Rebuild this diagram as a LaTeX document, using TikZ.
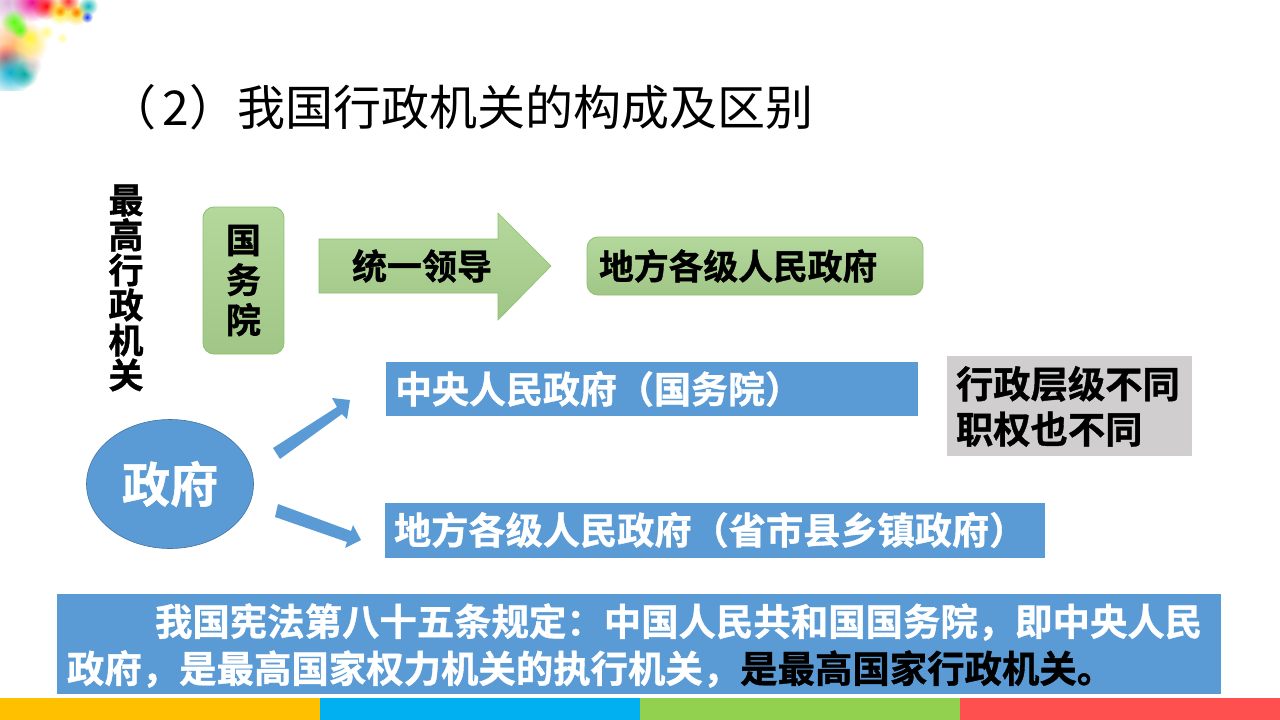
\documentclass[tikz,border=0pt]{standalone}
\usepackage{fontspec}
\setmainfont{Noto Sans CJK SC}[BoldFont={Noto Sans CJK SC Bold},BoldFeatures={FakeBold=1}]
\usetikzlibrary{shapes.geometric,fadings}
\definecolor{gov}{HTML}{5B9BD5}
\definecolor{leaf}{HTML}{A9D18E}
\definecolor{leaflight}{HTML}{B4D89C}
\definecolor{leafedge}{HTML}{8DBF6E}
\definecolor{shade}{HTML}{D0CECE}
\tikzfading[name=softdot,inner color=transparent!5,outer color=transparent!100]
\tikzset{
  x=1pt,y=-1pt,
  every node/.style={inner sep=0pt,outer sep=0pt},
  heavy/.style={font=\bfseries\fontsize{#1}{#1}\selectfont},
  band/.style={fill=gov,minimum height=54,anchor=west},
  greenbox/.style={top color=leaflight,bottom color=leaf!95!black,draw=leafedge,line width=0.8pt,rounded corners=11},
  blot/.style={fill=#1,path fading=softdot,draw=none},
}
\begin{document}
\begin{tikzpicture}
\useasboundingbox (0,0) rectangle (1280,720);
\fill[white] (0,0) rectangle (1280,720);

% Paint splash in the top-left corner
\begin{scope}
\clip (0,0) rectangle (100,90);
\fill[blot=violet!30] (8,2) circle (24);
\fill[blot=orange!60] (14,46) circle (32);
\fill[blot=yellow!60] (30,42) circle (18);
\fill[blot=red!70] (5,58) circle (15);
\fill[blot=cyan!80!green] (10,72) circle (24);
\fill[blot=cyan!50!green] (24,74) circle (14);
\fill[blot=gray!40] (32,66) circle (10);
\fill[blot=green!70!yellow] (14,22) circle (13);
\fill[blot=green!70!yellow] (20,30) circle (9);
\fill[blot=magenta] (32,2) circle (20);
\fill[blot=red] (46,6) circle (14);
\fill[blot=yellow!90!orange] (60,11) circle (14);
\fill[blot=orange] (60,11) circle (6);
\fill[blot=yellow!70!orange] (76,13) circle (13);
\fill[blot=orange!90!red] (76,12) circle (6);
\fill[blot=red!80!pink] (68,1) circle (11);
\fill[blot=teal!60!cyan] (88,6) circle (10);
\fill[blot=blue!80!cyan] (87,17) circle (6);
\fill[blot=yellow!80] (30,37) circle (8);
\fill[blot=yellow!50] (46,32) circle (8);
\fill[blot=yellow!40] (62,38) circle (6);
\end{scope}

% Title
\node[anchor=west,font=\fontsize{48}{48}\selectfont] (title) at (108,107) {（\hspace{7pt}2）我国行政机关的构成及区别};

% Vertical caption and the State Council box
\node[heavy=35,align=center] (highest) at (126,288) {最\\[0pt]高\\[0pt]行\\[0pt]政\\[0pt]机\\[0pt]关};
\node[greenbox,minimum width=81,minimum height=147,anchor=north west,heavy=35,align=center] (council) at (203,207) {国\\[5pt]务\\[5pt]院};

% Block arrow with its label
\path[top color=leaflight,bottom color=leaf!95!black,draw=leafedge,line width=0.6pt] (319,239) -- (498,239) -- (498,213) -- (551,266) -- (498,320) -- (498,293) -- (319,293) -- cycle;
\node[heavy=35] (lead) at (422,266) {统一领导};

\node[greenbox,minimum width=336,minimum height=58,anchor=north west] (local) at (587,237) {};
\node[heavy=34.8,anchor=west] (localtext) at (599,266) {地方各级人民政府};

% Government ellipse and its two branches
\node[ellipse,fill=gov,draw=gov!75!black,line width=0.6pt,minimum width=167,minimum height=129,text=white,heavy=48] (gov) at (170,484) {政府};
\fill[gov] (273,448) -- (337,407) -- (332,398) -- (350,400) -- (347,419) -- (342,414) -- (280,459) -- cycle;
\fill[gov] (278,504) -- (351,531) -- (353,525) -- (361,540) -- (345,548) -- (347,542) -- (275,517) -- cycle;

% Blue bands
\node[band,minimum width=532] (central) at (386,389) {};
\node[heavy=37,white,anchor=west] (centraltext) at (395,389) {中央人民政府（国务院）};
\node[band,minimum width=660,minimum height=55] (levels) at (385,530) {};
\node[heavy=37.2,white,anchor=west] (levelstext) at (394,530) {地方各级人民政府（省市县乡镇政府）};

% Grey note
\node[fill=shade,minimum width=245,minimum height=100,anchor=north west] (note) at (947,356) {};
\node[heavy=37.3,anchor=north west,align=left] (notetext) at (956,366) {行政层级不同\\[8pt]职权也不同};

% Constitution excerpt
\node[fill=gov,minimum width=1164,minimum height=100,anchor=north west] (law) at (57,594) {};
\node[heavy=37.4,white,anchor=west] (lawone) at (155,622) {我国宪法第八十五条规定：中国人民共和国国务院，即中央人民};
\node[heavy=37.4,white,anchor=west] (lawtwo) at (67,669) {政府，是最高国家权力机关的执行机关，\textcolor{black}{是最高国家行政机关。}};

% Footer stripe
\fill[fill={rgb,255:red,255;green,192;blue,0}] (0,698) rectangle (320,720);
\fill[fill={rgb,255:red,0;green,176;blue,240}] (320,698) rectangle (640,720);
\fill[fill={rgb,255:red,146;green,208;blue,80}] (640,698) rectangle (960,720);
\fill[fill={rgb,255:red,255;green,80;blue,80}] (960,698) rectangle (1280,720);
\end{tikzpicture}
\end{document}
